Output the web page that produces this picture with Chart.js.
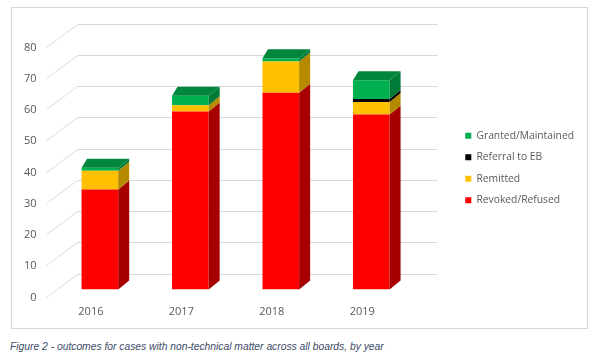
<!DOCTYPE html>
<html>
<head>
<meta charset="utf-8">
<script src="https://cdn.jsdelivr.net/npm/chart.js@4"></script>
<style>
  body { margin: 0; background: #fff; }
  #ram { position: absolute; left: 11px; top: 7px; width: 577px; height: 322px; box-sizing: border-box; border: 1px solid #d9d9d9; }
  #graf { display: block; }
  #text { position: absolute; left: 10px; top: 341px; font: italic 10.3px "Liberation Sans", sans-serif; color: #3b4a66; white-space: nowrap; }
</style>
</head>
<body>
<div id="ram"><canvas id="graf" width="575" height="320" style="width:575px;height:320px"></canvas></div>
<div id="text">Figure 2 - outcomes for cases with non-technical matter across all boards, by year</div>
<script>
// Data
const years = ['2016', '2017', '2018', '2019'];
const revoked = [32, 57, 63, 56];
const remitted = [6, 2, 10, 4];
const referral = [0, 0, 0, 1];
const granted = [1, 3, 1, 6];
const yMax = 80;
const yStep = 10;

// 3D-djup (pixlar)
const dx = 11, dxV = 5.5, dy = 9;

function poly(ctx, pts) {
    ctx.beginPath();
    ctx.moveTo(pts[0][0], pts[0][1]);
    pts.slice(1).forEach(p => ctx.lineTo(p[0], p[1]));
    ctx.closePath();
    ctx.fill();
}

// Ritar bakväggens rutnät och staplarnas sidor/tak
const tredje = {
    id: 'tredje',
    beforeDatasetsDraw(chart) {
        const { ctx, chartArea: a, scales: { y } } = chart;
        ctx.save();
        ctx.strokeStyle = '#d9d9d9';
        ctx.lineWidth = 1;
        y.ticks.forEach(t => {
            const py = Math.round(y.getPixelForValue(t.value)) + 0.5;
            ctx.beginPath();
            ctx.moveTo(a.left - 8, py + 7);
            ctx.lineTo(a.left + 23, py - 16);
            ctx.lineTo(a.right + 21, py - 16);
            ctx.stroke();
        });
        ctx.restore();
    },
    afterDatasetsDraw(chart) {
        const ctx = chart.ctx;
        const sets = chart.data.datasets;
        ctx.save();
        sets.forEach((ds, d) => {
            chart.getDatasetMeta(d).data.forEach((bar, i) => {
                if (!ds.data[i]) return;
                const { x, y, base, width } = bar.getProps(['x', 'y', 'base', 'width'], true);
                const l = x - width / 2, r = x + width / 2;
                ctx.fillStyle = ds.sida;
                poly(ctx, [[r, y], [r + dx, y - dy], [r + dx, base - dy], [r, base]]);
                const overst = sets.slice(d + 1).every(o => !o.data[i]);
                if (overst) {
                    ctx.fillStyle = ds.tak;
                    poly(ctx, [[l, y], [l + dxV, y - dy], [r + dx, y - dy], [r, y]]);
                }
            });
        });
        ctx.restore();
    }
};

Chart.defaults.font.family = "'Open Sans', sans-serif";
Chart.defaults.color = '#595959';

new Chart(document.querySelector('#graf'), {
    type: 'bar',
    data: {
        labels: years,
        datasets: [
            { label: 'Revoked/Refused', data: revoked, backgroundColor: '#ff0000', sida: '#a60000', tak: '#c00000' },
            { label: 'Remitted', data: remitted, backgroundColor: '#ffc000', sida: '#b58a00', tak: '#d9a300' },
            { label: 'Referral to EB', data: referral, backgroundColor: '#000000', sida: '#000000', tak: '#000000' },
            { label: 'Granted/Maintained', data: granted, backgroundColor: '#00b050', sida: '#007a37', tak: '#00873c' }
        ]
    },
    options: {
        responsive: false,
        animation: false,
        datasets: { bar: { barPercentage: 0.405, categoryPercentage: 1, borderWidth: 0 } },
        layout: { padding: { top: 31.5, right: 3, left: 0, bottom: 0 } },
        scales: {
            x: {
                stacked: true,
                grid: { display: false, drawTicks: false },
                border: { display: false },
                ticks: { padding: 16, labelOffset: -9, font: { size: 11 } },
                afterFit: s => { s.height = 38.5; }
            },
            y: {
                stacked: true,
                min: 0,
                max: yMax,
                grid: { display: false, drawTicks: false },
                border: { display: false },
                ticks: { stepSize: yStep, padding: 18, labelOffset: 8, font: { size: 11 } },
                afterFit: s => { s.width = 42.65; }
            },
            y2: {
                position: 'right',
                grid: { display: false, drawTicks: false },
                border: { display: false },
                ticks: { display: false },
                afterFit: s => { s.width = 37.6; }
            }
        },
        plugins: {
            legend: {
                position: 'right',
                fullSize: false,
                reverse: true,
                maxWidth: 200,
                title: { display: true, text: ' ', font: { size: 1, lineHeight: 1 }, padding: { top: 3, bottom: 3 } },
                labels: { boxWidth: 6, boxHeight: 6, padding: 11.2, font: { size: 10.3 } }
            },
            tooltip: { enabled: false }
        }
    },
    plugins: [tredje]
});
</script>
</body>
</html>
